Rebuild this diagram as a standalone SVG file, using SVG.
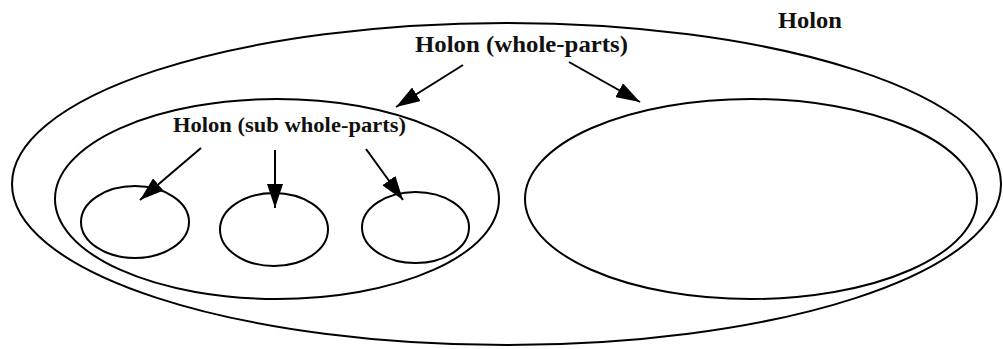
<svg xmlns="http://www.w3.org/2000/svg" width="1003" height="349" viewBox="0 0 1003 349">
<defs>
<marker id="ah" viewBox="0 0 24 16" refX="24" refY="8" markerWidth="24" markerHeight="16" markerUnits="userSpaceOnUse" orient="auto">
<path d="M0,0 L24,8 L0,16 z" fill="#000"/>
</marker>
<style>
.sh{fill:none;stroke:#000;stroke-width:2}
.t{font-family:"Liberation Serif",serif;font-weight:bold;fill:#111}
.c{stroke:#000;stroke-width:2;fill:none}
</style>
</defs>
<rect width="1003" height="349" fill="#fff"/>
<g id="holon">
<ellipse class="sh" cx="506.5" cy="184" rx="494.5" ry="161"/>
<text class="t" x="778" y="28" font-size="24" textLength="64" lengthAdjust="spacingAndGlyphs">Holon</text>
</g>
<g id="whole-parts">
<ellipse class="sh" cx="277" cy="199" rx="222" ry="100"/>
<text class="t" x="415" y="52" font-size="24" textLength="213" lengthAdjust="spacingAndGlyphs">Holon (whole-parts)</text>
</g>
<g id="right-part">
<ellipse class="sh" cx="751" cy="199" rx="226" ry="100"/>
</g>
<g id="sub-whole-parts">
<text class="t" x="173" y="132" font-size="22" textLength="233" lengthAdjust="spacingAndGlyphs">Holon (sub whole-parts)</text>
</g>
<g id="sub1"><ellipse class="sh" cx="135" cy="222" rx="54" ry="36"/></g>
<g id="sub2"><ellipse class="sh" cx="274" cy="229.5" rx="54" ry="36.5"/></g>
<g id="sub3"><ellipse class="sh" cx="415.5" cy="227.5" rx="53.5" ry="35.5"/></g>
<g id="connectors">
<line class="c" x1="463" y1="65" x2="396" y2="107" marker-end="url(#ah)"/>
<line class="c" x1="569" y1="62" x2="640" y2="102" marker-end="url(#ah)"/>
<line class="c" x1="201" y1="148" x2="140" y2="200" marker-end="url(#ah)"/>
<line class="c" x1="275" y1="150" x2="275" y2="208" marker-end="url(#ah)"/>
<line class="c" x1="366" y1="149" x2="403" y2="200" marker-end="url(#ah)"/>
</g>
</svg>
